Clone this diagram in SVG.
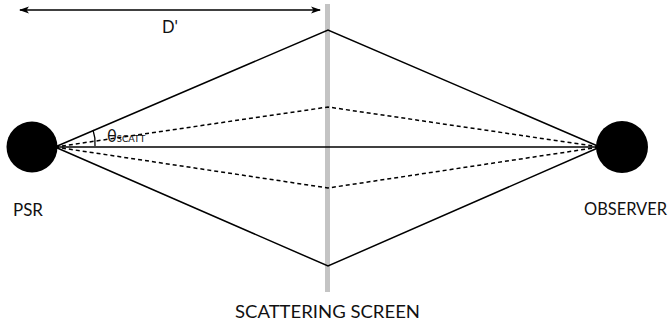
<svg xmlns="http://www.w3.org/2000/svg" width="671" height="329" viewBox="0 0 671 329">
<style>
.ray{fill:none;stroke:#000;stroke-width:1.5}
.dash{fill:none;stroke:#000;stroke-width:1.5;stroke-dasharray:4 3}
.lbl{font-family:Lato,"Liberation Sans",sans-serif;font-size:16.5px;fill:#111}
</style>
<defs>
<marker id="ah" viewBox="0 0 10 10" refX="9" refY="5" markerWidth="10" markerHeight="10" markerUnits="userSpaceOnUse" orient="auto-start-reverse">
<path d="M0,1.5 L10,5 L0,8.5 L2.5,5 Z" fill="#000"/>
</marker>
</defs>
<rect width="671" height="329" fill="#fff"/>
<g id="screen">
<rect x="325" y="4" width="5" height="288" fill="#c4c4c4"/>
<text class="lbl" x="235" y="318" textLength="185" lengthAdjust="spacingAndGlyphs">SCATTERING SCREEN</text>
</g>
<g id="connectors">
<line x1="20" y1="10" x2="320" y2="10" stroke="#000" stroke-width="1.5" marker-start="url(#ah)" marker-end="url(#ah)"/>
<polyline class="ray" points="55,147 328,30 600,147"/>
<polyline class="ray" points="55,147 328,266 600,147"/>
<polyline class="dash" points="55,147 328,107 600,147"/>
<polyline class="dash" points="55,147 328,188 600,147"/>
<line class="ray" x1="55" y1="147" x2="600" y2="147" stroke-width="1.2"/>
<path d="M93,130 A40,40 0 0 1 95,146" fill="none" stroke="#000" stroke-width="1.3"/>
</g>
<g id="psr">
<circle cx="32" cy="147" r="25.5" fill="#000"/>
<text class="lbl" x="13" y="216" textLength="30" lengthAdjust="spacingAndGlyphs">PSR</text>
</g>
<g id="observer">
<circle cx="622" cy="147" r="26" fill="#000"/>
<text class="lbl" x="584" y="215" textLength="83" lengthAdjust="spacingAndGlyphs">OBSERVER</text>
</g>
<text class="lbl" x="162" y="33">D'</text>
<text class="lbl" x="107" y="142" font-size="14">θ<tspan font-size="9.5">SCATT</tspan></text>
</svg>
